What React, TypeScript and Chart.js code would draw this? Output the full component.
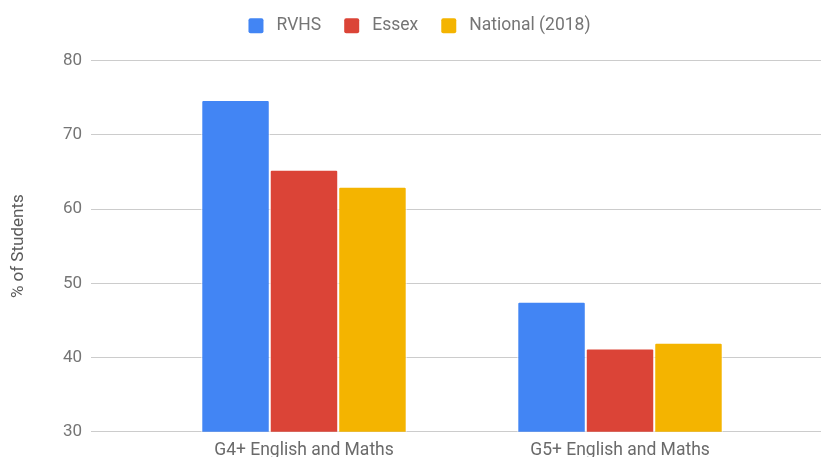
import React, { useEffect, useRef } from "react";
import { Chart, registerables } from "chart.js";

Chart.register(...registerables);

const categories = ["G4+ English and Maths", "G5+ English and Maths"];
const seriesNames = ["RVHS", "Essex", "National (2018)"];
const rvhs = [74.7, 47.5];
const essex = [65.3, 41.2];
const national = [63.0, 42.0];
const seriesColors = ["#4285F4", "#DB4437", "#F4B400"];
const yTicks = [30, 40, 50, 60, 70, 80];
const yTitle = "% of Students";

const legendHeightPlugin = {
  id: "legendHeight",
  beforeLayout(chart: any) {
    const lg = chart.legend;
    if (lg && !lg.__patched) {
      const origFit = lg.fit;
      lg.fit = function () {
        origFit.call(this);
        this.height = 66.7;
      };
      const origDraw = lg.draw;
      lg.draw = function () {
        const ctx = this.ctx;
        ctx.save();
        ctx.translate(9, 0);
        origDraw.call(this);
        ctx.restore();
      };
      lg.__patched = true;
    }
  },
};

export default function App() {
  const ref = useRef<HTMLCanvasElement | null>(null);

  useEffect(() => {
    if (!ref.current) return;
    const series = [rvhs, essex, national];
    const chart = new Chart(ref.current, {
      type: "bar",
      plugins: [legendHeightPlugin],
      data: {
        datasets: series.map((vals, i) => ({
          label: seriesNames[i],
          data: vals.map((v, j) => ({ x: j, y: v })),
          backgroundColor: seriesColors[i],
          borderColor: "#ffffff",
          borderWidth: 1,
          borderRadius: 2,
          borderSkipped: "bottom",
          categoryPercentage: 0.65,
          barPercentage: 1,
        })),
      },
      options: {
        animation: false,
        responsive: true,
        maintainAspectRatio: false,
        layout: { padding: { top: -6, left: 0, right: 0, bottom: 0 } },
        plugins: {
          legend: {
            position: "top",
            align: "center",
            labels: {
              boxWidth: 15,
              boxHeight: 15,
              useBorderRadius: true,
              borderRadius: 2,
              padding: 23,
              color: "#757575",
              font: { family: "Roboto", size: 17.5 },
              generateLabels: (c: any) =>
                c.data.datasets.map((d: any, i: number) => ({
                  text: " " + d.label,
                  fillStyle: d.backgroundColor,
                  strokeStyle: d.backgroundColor,
                  lineWidth: 0,
                  borderRadius: 2,
                  datasetIndex: i,
                  hidden: false,
                  fontColor: "#757575",
                })),
            },
          },
          tooltip: { enabled: false },
        },
        scales: {
          x: {
            type: "linear",
            offset: false,
            min: -0.674,
            max: 1.636,
            grid: { display: false, drawTicks: false },
            border: { display: false },
            afterBuildTicks: (s: any) => {
              s.ticks = categories.map((_, i) => ({ value: i }));
            },
            afterFit: (s: any) => {
              s.height = 38.3;
            },
            ticks: {
              padding: 8,
              color: "#6a6a6a",
              font: { family: "Roboto", size: 17.5 },
              maxRotation: 0,
              autoSkip: false,
              callback: (v: any) => categories[Math.round(Number(v))] ?? "",
            },
          },
          y: {
            min: yTicks[0],
            max: yTicks[yTicks.length - 1],
            afterBuildTicks: (s: any) => {
              s.ticks = yTicks.map((v) => ({ value: v }));
            },
            afterFit: (s: any) => {
              s.width = 91;
            },
            grid: { color: "#cccccc", drawTicks: false, lineWidth: 1 },
            border: { display: false },
            ticks: {
              padding: 9,
              color: "#757575",
              font: { family: "Roboto", size: 17 },
            },
            title: {
              display: true,
              text: yTitle,
              color: "#5a5a5a",
              padding: { top: 9, bottom: 0 },
              font: { family: "Roboto", size: 17 },
            },
          },
        },
      },
    });
    return () => chart.destroy();
  }, []);

  return (
    <div style={{ position: "fixed", left: 0, top: 0, width: 821, height: 457, overflow: "hidden", background: "#fff" }}>
      <div style={{ position: "relative", width: 821, height: 470 }}>
        <canvas ref={ref} />
      </div>
    </div>
  );
}
